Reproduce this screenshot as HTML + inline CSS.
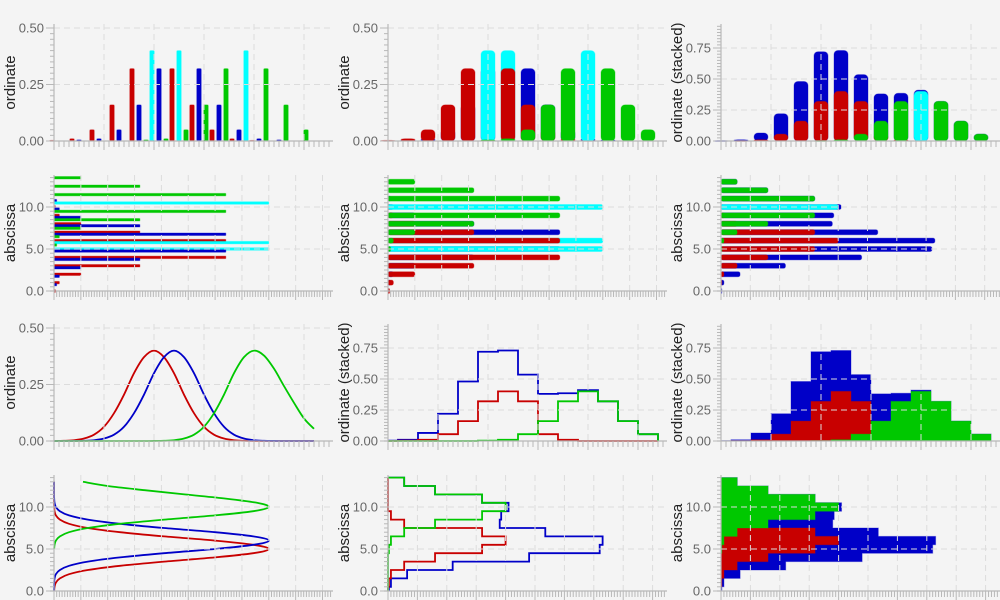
<!DOCTYPE html>
<html><head><meta charset="utf-8"><style>
html,body{margin:0;padding:0;background:#f4f4f4;}
svg{display:block;font-family:"Liberation Sans","DejaVu Sans",sans-serif;}
</style></head><body>
<svg id="chart" width="1000" height="600" viewBox="0 0 1000 600" xmlns="http://www.w3.org/2000/svg">
<rect x="0" y="0" width="1000" height="600" fill="#f4f4f4"/>
</svg>
<script>
// ---- data ----
const bins = [0,1,2,3,4,5,6,7,8,9,10,11,12,13];
const redVals   = [0.003,0.01,0.05,0.16,0.32,0.40,0.32,0.16,0.05,0.01,0.003,0,0,0];
const blueVals  = [0,0.005,0.01,0.05,0.16,0.32,0.40,0.32,0.16,0.05,0.01,0.005,0,0];
const greenVals = [0,0,0,0,0,0.005,0.01,0.05,0.16,0.32,0.40,0.32,0.16,0.05];
const stackBlue  = [0.003,0.01,0.065,0.22,0.48,0.72,0.73,0.535,0.38,0.385,0.41,0.32,0.16,0.055];
const stackRed   = [0,0.003,0.01,0.055,0.16,0.32,0.40,0.32,0.055,0.01,0,0,0,0];
const stackGreen = [0,0,0,0,0,0.003,0.01,0.055,0.16,0.32,0.40,0.32,0.16,0.055];
const curveX = [0,0.5,1,1.5,2,2.5,3,3.5,4,4.5,5,5.5,6,6.5,7,7.5,8,8.5,9,9.5,10,10.5,11,11.5,12,12.5,13];
const redCurve   = [0.0003,0.001,0.0035,0.011,0.028,0.063,0.123,0.205,0.30,0.371,0.40,0.371,0.30,0.205,0.123,0.063,0.028,0.011,0.0035,0.001,0.0003,0,0,0,0,0,0];
const blueCurve  = [0,0.0001,0.0003,0.001,0.0035,0.011,0.028,0.063,0.123,0.205,0.30,0.371,0.40,0.371,0.30,0.205,0.123,0.063,0.028,0.011,0.0035,0.001,0.0003,0,0,0,0];
const greenCurve = [0,0,0,0,0,0,0,0,0,0,0.0003,0.001,0.0035,0.011,0.028,0.063,0.123,0.205,0.30,0.371,0.40,0.378,0.32,0.243,0.169,0.100,0.054];
const ordTicks3 = [0,0.25,0.5];
const ordTicks4 = [0,0.25,0.5,0.75];
const absTicks = [0,5,10];

const C = {red:'#c80000', blue:'#0000c8', green:'#00c800', cyan:'#00ffff'};
const NS = 'http://www.w3.org/2000/svg';
const svg = document.getElementById('chart');
function el(tag, attrs, parent){
  const e = document.createElementNS(NS, tag);
  for (const k in attrs) e.setAttribute(k, attrs[k]);
  (parent || svg).appendChild(e);
  return e;
}
const W = 279;
const COLS = [54, 388, 721];
const ROWS = [{T:24,B:141},{T:175,B:291},{T:324,B:441},{T:475,B:591}];
const maxOf = a => Math.max.apply(null, a);

function panel(col,row,orient,K,ticks,title,name){
  const L = COLS[col], T = ROWS[row].T, B = ROWS[row].B;
  const g = el('g', {});
  
  
  const p = {L,T,B,K,orient,g,ticks,title,name};
  if (orient === 'v') {
    p.x = a => L + 20*a;
    p.y = v => B - v*K;
  } else {
    p.y = a => B - 8.4*a;
    p.x = v => L + v*K;
  }
  p.marks = el('g', {}, g);
  
  
  return p;
}
function finishAxes(p){
  const {L,T,B,K,orient,g,ticks,title,name} = p;
  const ax = el('g', {}, g);
  
  
  const grid = '#dcdcdc', axc = '#b8b8b8';
  const ymaj = ticks.map(t => p.y(t));
  const ystepPx = Math.abs(ymaj[1]-ymaj[0]);
  for (let y = B, i = 0; y >= T - 0.1; y -= ystepPx/10, i++) {
    const maj = i % 10 === 0;
    el('line', {x1: L-(maj?8:4), x2: L, y1: y, y2: y, stroke: axc, 'stroke-width': 1}, ax);
  }
  ticks.forEach((t,i) => {
    const y = p.y(t);
    if (i > 0) {
      const gl = el('line', {x1: L, x2: L+W, y1: y, y2: y, stroke: grid, 'stroke-width': 1, 'stroke-dasharray': '6,4'}, ax);
      
      
    }
    const tx = el('text', {x: L-10, y: y+4.5, 'text-anchor': 'end', 'font-size': 13, fill: '#666'}, ax);
    tx.textContent = orient==='v' ? t.toFixed(2) : t.toFixed(1);
    
    
  });
  const xmajPx = orient==='v' ? 50 : (K*(K>400?0.05:0.1));
  for (let i = 0; L + i*xmajPx/10 <= L+W+0.1; i++) {
    const x = L + i*xmajPx/10;
    const maj = i % 10 === 0;
    el('line', {x1: x, x2: x, y1: B, y2: B+(maj?9:6), stroke: axc, 'stroke-width': 1}, ax);
    if (maj && i > 0) {
      const gl = el('line', {x1: x, x2: x, y1: T, y2: B, stroke: grid, 'stroke-width': 1, 'stroke-dasharray': '6,4'}, ax);
      
      
    }
  }
  const ys = el('line', {x1: L, x2: L, y1: T, y2: B, stroke: axc, 'stroke-width': 1.2}, ax);
  
  
  const xs = el('line', {x1: L-4, x2: L+W, y1: B, y2: B, stroke: axc, 'stroke-width': 1.2}, ax);
  
  
  const cy = (T+B)/2, cx = L-44;
  const tt = el('text', {x: cx, y: cy, 'text-anchor': 'middle', 'font-size': 15, fill: '#222', transform: `rotate(-90 ${cx} ${cy}) translate(0 5)`}, ax);
  tt.textContent = title;
  
  
}
function vbar(p, a, v, color, w, off, rx, nm){
  if (v <= 0) return;
  const x = p.x(a) + off - w/2, y = p.y(v);
  const r = el('rect', {x, y, width: w, height: Math.max(p.B - y, 0.8), rx: rx, fill: color, stroke: color, 'stroke-opacity': 0.35, 'stroke-width': 1}, p.marks);
  
  
}
function hbar(p, a, v, color, h, off, rx, nm){
  if (v <= 0) return;
  const y = p.y(a) + off - h/2, x = p.x(v);
  const r = el('rect', {x: p.L, y, width: Math.max(x - p.L, 0.8), height: h, rx: rx, fill: color, stroke: color, 'stroke-opacity': 0.35, 'stroke-width': 1}, p.marks);
  
  
}
const series = [
  {name:'red', vals: redVals, color: C.red},
  {name:'blue', vals: blueVals, color: C.blue},
  {name:'green', vals: greenVals, color: C.green}
];
const overlapOrder = [series[1], series[0], series[2]];
const colOf = (s, i) => s.vals[i] === maxOf(s.vals) ? C.cyan : s.color;

(function(){
  const p = panel(0,0,'v',226,ordTicks3,'ordinate','dodged-bar-panel');
  const offs = {red:-2, blue:5, green:-8};
  series.forEach(s => bins.forEach((a,i) => vbar(p, a, s.vals[i], colOf(s,i), 4.5, offs[s.name], 1, 'bar-' + s.name)));
  finishAxes(p);
})();
(function(){
  const p = panel(1,0,'v',226,ordTicks3,'ordinate','overlap-bar-panel');
  bins.forEach((a,i) => {
    overlapOrder.forEach(s => vbar(p, a, s.vals[i], colOf(s,i), 14, 0, 4, 'bar-' + s.name));
  });
  finishAxes(p);
})();
(function(){
  const p = panel(2,0,'v',124,ordTicks4,'ordinate (stacked)','stacked-bar-panel');
  bins.forEach((a,i) => {
    vbar(p, a, stackBlue[i], C.blue, 14, 0, 4, 'bar-blue');
    vbar(p, a, stackRed[i], C.red, 14, 0, 4, 'bar-red');
    vbar(p, a, stackGreen[i], stackGreen[i]===maxOf(stackGreen)?C.cyan:C.green, 14, 0, 4, 'bar-green');
  });
  finishAxes(p);
})();
(function(){
  const p = panel(0,1,'h',537,absTicks,'abscissa','dodged-hbar-panel');
  const offs = {red:0, blue:2, green:-4};
  series.forEach(s => bins.forEach((a,i) => hbar(p, a, s.vals[i], colOf(s,i), 2.5, offs[s.name], 0.5, 'hbar-' + s.name)));
  finishAxes(p);
})();
(function(){
  const p = panel(1,1,'h',537,absTicks,'abscissa','overlap-hbar-panel');
  bins.forEach((a,i) => {
    overlapOrder.forEach(s => hbar(p, a, s.vals[i], colOf(s,i), 5, 0, 2, 'hbar-' + s.name));
  });
  finishAxes(p);
})();
(function(){
  const p = panel(2,1,'h',293,absTicks,'abscissa','stacked-hbar-panel');
  bins.forEach((a,i) => {
    hbar(p, a, stackBlue[i], C.blue, 5, 0, 2, 'hbar-blue');
    hbar(p, a, stackRed[i], C.red, 5, 0, 2, 'hbar-red');
    hbar(p, a, stackGreen[i], stackGreen[i]===maxOf(stackGreen)?C.cyan:C.green, 5, 0, 2, 'hbar-green');
  });
  finishAxes(p);
})();
function smooth(pts){
  let d = 'M' + pts[0][0].toFixed(2) + ',' + pts[0][1].toFixed(2);
  for (let i = 0; i < pts.length-1; i++) {
    const p0 = pts[i-1] || pts[i], p1 = pts[i], p2 = pts[i+1], p3 = pts[i+2] || p2;
    const c1 = [p1[0]+(p2[0]-p0[0])/6, p1[1]+(p2[1]-p0[1])/6];
    const c2 = [p2[0]-(p3[0]-p1[0])/6, p2[1]-(p3[1]-p1[1])/6];
    d += 'C' + c1.map(v=>v.toFixed(2)).join(',') + ' ' + c2.map(v=>v.toFixed(2)).join(',') + ' ' + p2.map(v=>v.toFixed(2)).join(',');
  }
  return d;
}
const curves = [
  {name:'red', vals: redCurve, color: C.red},
  {name:'blue', vals: blueCurve, color: C.blue},
  {name:'green', vals: greenCurve, color: C.green}
];
(function(){
  const p = panel(0,2,'v',226,ordTicks3,'ordinate','density-panel');
  curves.forEach(c => {
    const pts = curveX.map((a,i) => [p.x(a), p.y(c.vals[i])]);
    const path = el('path', {d: smooth(pts), fill: 'none', stroke: c.color, 'stroke-width': 1.8}, p.marks);
    
    
  });
  finishAxes(p);
})();
function stepPathV(p, vals, close){
  const L = p.L, R = p.L + W;
  let d = '';
  bins.forEach((a,i) => {
    const x0 = Math.max(p.x(a-0.5), L), x1 = Math.min(p.x(a+0.5), R), y = p.y(vals[i]);
    d += (i===0 ? 'M' + x0 + ',' + (close ? p.B : y) + 'L' + x0 + ',' + y : 'L' + x0 + ',' + y) + 'L' + x1 + ',' + y;
  });
  d += 'L' + Math.min(p.x(13.5), R) + ',' + p.B;
  if (close) d += 'Z';
  return d;
}
function stepPathH(p, vals, close){
  const T = p.T;
  let d = '';
  bins.forEach((a,i) => {
    const y0 = Math.min(p.y(a-0.5), p.B), y1 = Math.max(p.y(a+0.5), T), x = p.x(vals[i]);
    d += (i===0 ? 'M' + (close ? p.L : x) + ',' + y0 + 'L' + x + ',' + y0 : 'L' + x + ',' + y0) + 'L' + x + ',' + y1;
  });
  d += 'L' + p.L + ',' + Math.max(p.y(13.5), T);
  if (close) d += 'Z';
  return d;
}
const stacks = [
  {name:'blue', vals: stackBlue, color: C.blue},
  {name:'red', vals: stackRed, color: C.red},
  {name:'green', vals: stackGreen, color: C.green}
];
(function(){
  const p = panel(1,2,'v',124,ordTicks4,'ordinate (stacked)','step-line-panel');
  stacks.forEach(s => {
    const path = el('path', {d: stepPathV(p, s.vals, false), fill: 'none', stroke: s.color, 'stroke-width': 1.8}, p.marks);
    
    
  });
  finishAxes(p);
})();
(function(){
  const p = panel(2,2,'v',124,ordTicks4,'ordinate (stacked)','step-area-panel');
  stacks.forEach(s => {
    const path = el('path', {d: stepPathV(p, s.vals, true), fill: s.color, stroke: s.color, 'stroke-opacity': 0.35, 'stroke-width': 1}, p.marks);
    
    
  });
  finishAxes(p);
})();
(function(){
  const p = panel(0,3,'h',537,absTicks,'abscissa','hdensity-panel');
  curves.forEach(c => {
    let pts = curveX.map((a,i) => [p.x(c.vals[i]), p.y(a)]);
    if (c.name === 'green') pts = pts.filter((q,i) => c.vals[i] > 0 || curveX[i] > 9);
    const path = el('path', {d: smooth(pts), fill: 'none', stroke: c.color, 'stroke-width': 1.8}, p.marks);
    
    
  });
  finishAxes(p);
})();
(function(){
  const p = panel(1,3,'h',294,absTicks,'abscissa','hstep-line-panel');
  stacks.forEach(s => {
    const path = el('path', {d: stepPathH(p, s.vals, false), fill: 'none', stroke: s.color, 'stroke-width': 1.8}, p.marks);
    
    
  });
  finishAxes(p);
})();
(function(){
  const p = panel(2,3,'h',294,absTicks,'abscissa','hstep-area-panel');
  stacks.forEach(s => {
    const path = el('path', {d: stepPathH(p, s.vals, true), fill: s.color, stroke: s.color, 'stroke-opacity': 0.35, 'stroke-width': 1}, p.marks);
    
    
  });
  finishAxes(p);
})();
</script>
</body></html>
